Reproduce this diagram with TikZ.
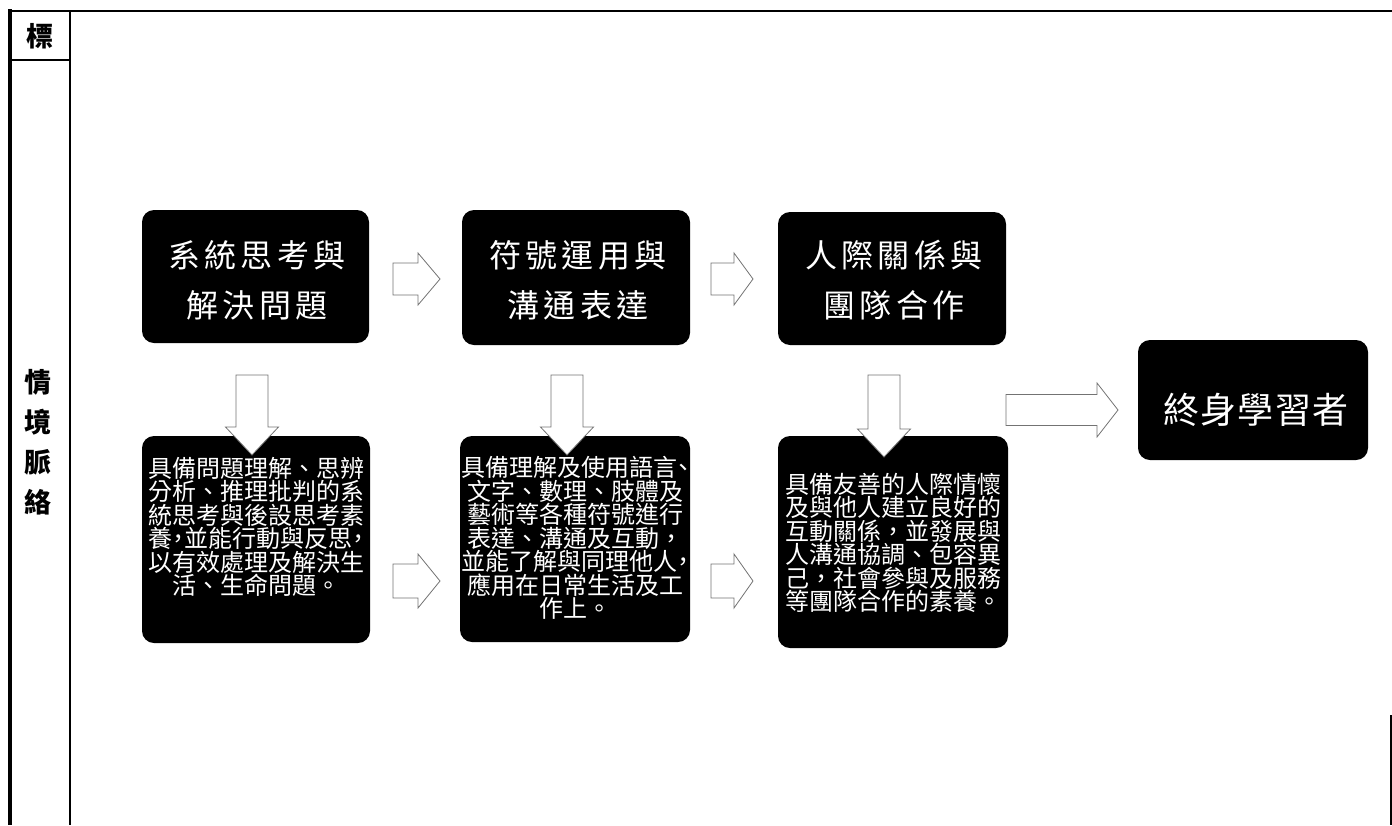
\documentclass[tikz,border=0pt]{standalone}
\usepackage{fontspec}
\newfontfamily\cjk{Noto Sans CJK TC}
\usetikzlibrary{calc}
\tikzset{
  box/.style={fill=black, rounded corners=12pt, inner sep=0pt, outer sep=0pt},
  ttl/.style={text=white, font=\cjk\fontsize{32}{50}\selectfont\addfontfeature{LetterSpace=14}, align=center, inner sep=0pt},
  big/.style={text=white, font=\cjk\fontsize{36}{40}\selectfont\addfontfeature{LetterSpace=4}, align=center, inner sep=0pt},
  body/.style={text=white, font=\cjk\fontsize{24}{23.5}\selectfont, align=center, inner sep=0pt},
  head/.style={font=\cjk\bfseries\fontsize{27}{40}\selectfont, align=center, inner sep=0pt},
  blk/.style={fill=white, draw=black!55, line width=0.8pt, line join=miter},
  rule/.style={line width=2pt}
}
\newcommand\hp[1]{\makebox[0.5em]{#1}}
\newcommand\BlkR[6]{\draw[blk,shift={(#1,#2)}] (-#3,-#4) -- ({#3-#5},-#4) -- ({#3-#5},-#6) -- (#3,0) -- ({#3-#5},#6) -- ({#3-#5},#4) -- (-#3,#4) -- cycle;}
\newcommand\BlkD[6]{\draw[blk,shift={(#1,#2)}] (-#4,-#3) -- (#4,-#3) -- (#4,{#3-#5}) -- (#6,{#3-#5}) -- (0,#3) -- (-#6,{#3-#5}) -- (-#4,{#3-#5}) -- cycle;}
\begin{document}
\begin{tikzpicture}[x=1pt,y=-1pt]
\useasboundingbox (0,0) rectangle (1392,825);
% table frame
\draw[line width=4pt] (9.5,9) -- (9.5,825);
\draw[rule] (8,11) -- (1392,11);
\draw[rule] (70,11) -- (70,825);
\draw[rule] (9,60) -- (70,60);
\draw[rule] (1391,715) -- (1391,825);
\node[head] (hd) at (40,36) {標};
\node[head] (side) at (38,442) {情\\境\\脈\\絡};
% boxes
\node[box, minimum width=227pt, minimum height=133pt] (b1) at (255.5,276.5) {};
\node[box, minimum width=228pt, minimum height=135pt] (b2) at (576,277.5) {};
\node[box, minimum width=228pt, minimum height=133pt] (b3) at (892,278.5) {};
\node[box, minimum width=230pt, minimum height=120pt] (b4) at (1253,400) {};
\node[box, minimum width=228pt, minimum height=207pt] (b5) at (256,539.5) {};
\node[box, minimum width=230pt, minimum height=206pt] (b6) at (575,539) {};
\node[box, minimum width=230pt, minimum height=212pt] (b7) at (893,542) {};
% block arrows
\BlkR{416.5}{279}{23.5}{16}{22}{26}
\BlkR{732}{279}{21}{16}{19}{26}
\BlkR{416.5}{581}{23.5}{17}{22}{27}
\BlkR{732}{581}{21}{17}{19}{27}
\BlkR{1062}{410}{56}{15.5}{21}{27}
\BlkD{252}{415}{40}{16}{28}{26.5}
\BlkD{567}{415}{40}{16}{28}{26.5}
\BlkD{884}{416}{41}{16}{28}{26.5}
% texts
\node[ttl] (t1) at (257,280) {系統思考與\\解決問題};
\node[ttl] (t2) at (578,280) {符號運用與\\溝通表達};
\node[ttl] (t3) at (894,280) {人際關係與\\團隊合作};
\node[big] (t4) at (1256,410) {終身學習者};
\node[body] (t5) at (256,527) {具備問題理解、思辨\\分析、推理批判的系\\統思考與後設思考素\\養\hp{，}並能行動與反思\hp{，}\\以有效處理及解決生\\活、生命問題。};
\node[body] (t6) at (575,538) {具備理解及使用語言\hp{、}\\文字、數理、肢體及\\藝術等各種符號進行\\表達、溝通及互動，\\並能了解與同理他人\hp{，}\\應用在日常生活及工\\作上。};
\node[body] (t7) at (893,543) {具備友善的人際情懷\\及與他人建立良好的\\互動關係，並發展與\\人溝通協調、包容異\\己，社會參與及服務\\等團隊合作的素養。};
\end{tikzpicture}
\end{document}
